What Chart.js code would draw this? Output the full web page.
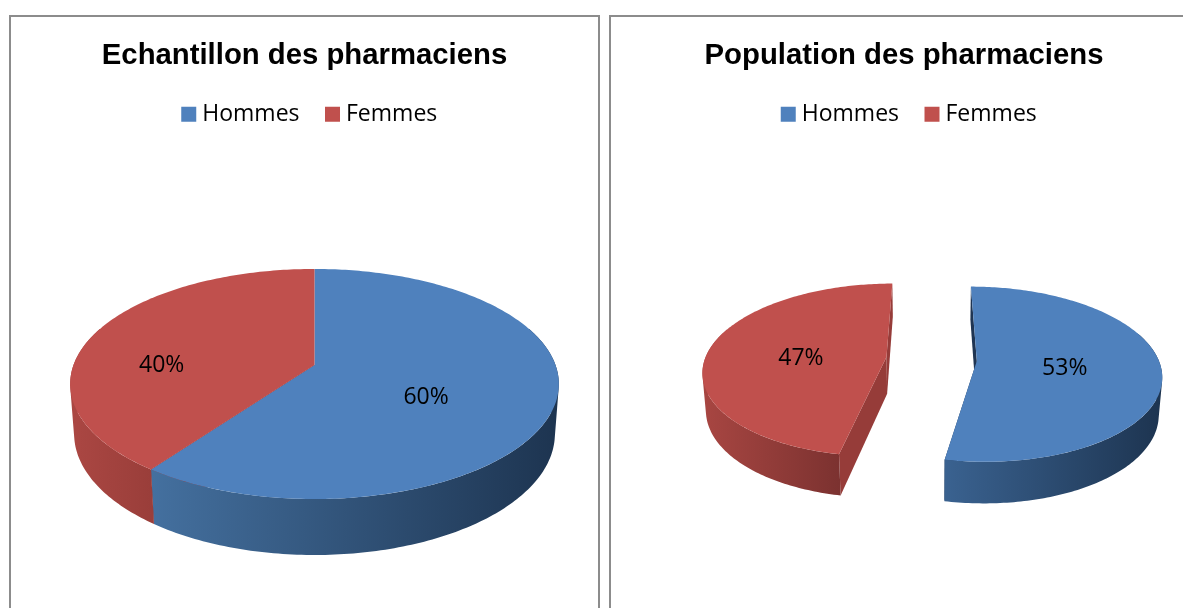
<!DOCTYPE html>
<html><head><meta charset="utf-8">
<script src="https://cdn.jsdelivr.net/npm/chart.js@4"></script>
<style>
html,body{margin:0;padding:0;background:#fff;width:1183px;height:608px;overflow:hidden}
.p{position:absolute;top:15px;height:610px;border:2px solid #8c8c8c;box-sizing:border-box;background:#fff}
canvas{display:block}
</style></head><body>
<div class="p" style="left:9px;width:591px"><canvas id="a"></canvas></div>
<div class="p" style="left:609px;width:590px"><canvas id="b"></canvas></div>
<script>
const categories = ["Hommes", "Femmes"];
const sampleValues = [60, 40];
const populationValues = [53, 47];
const titles = ["Echantillon des pharmaciens", "Population des pharmaciens"];
const colors = ["#4f81bd", "#c0504d"];
const radialWalls = ["#1f3553","#963c39"];

const pie3d = {
  id: "pie3d",
  afterLayout(chart) {
    chart.legend.left += 7.5;
    chart.legend.right += 7.5;
    chart.legend.top += 1;
  },
  beforeDatasetsDraw(chart, args, o) {
    const ctx = chart.ctx, arcs = chart.getDatasetMeta(0).data;
    const rot = -Math.PI/2;
    const proj = (a,r,z,ea) => {
      let u = Math.sin(a)*r, v = -Math.cos(a)*r;
      if (o.explode) { u += o.explode*Math.sin(ea); v += -o.explode*Math.cos(ea); }
      const wx = 1 - o.kx*v + o.m*z, wy = 1 - o.ky*v + o.m*z;
      return [o.cx + o.R*u/wx, o.cy + (o.A*v + o.D*z)/wy];
    };
    const slices = arcs.map((arc,i)=>{
      const s = arc.startAngle - rot, e = arc.endAngle - rot;
      return {i, s, e, m:(s+e)/2};
    });
    const addPoly = pts => {
      let area = 0;
      pts.forEach((p,j)=>{const q=pts[(j+1)%pts.length]; area += p[0]*q[1]-q[0]*p[1];});
      const list = area < 0 ? pts.slice().reverse() : pts;
      list.forEach((p,j)=> j? ctx.lineTo(p[0],p[1]) : ctx.moveTo(p[0],p[1]));
      ctx.closePath();
    };
    const poly = (pts,fill) => { ctx.beginPath(); addPoly(pts); ctx.fillStyle = fill; ctx.fill(); };
    const rim = (s,e,z,ea) => {
      const n = Math.max(2,Math.ceil((e-s)*60)), pts=[];
      for (let j=0;j<=n;j++) pts.push(proj(s+(e-s)*j/n,1,z,ea));
      return pts;
    };
    slices.forEach(sl=>{
      [sl.s,sl.e].forEach(a=>{
        poly([proj(a,0,0,sl.m),proj(a,1,0,sl.m),proj(a,1,1,sl.m),proj(a,0,1,sl.m)], radialWalls[sl.i]);
      });
    });
    const lim0 = 70*Math.PI/180, lim1 = 290*Math.PI/180;
    slices.forEach(sl=>{
      const s = Math.max(sl.s,lim0), e = Math.min(sl.e,lim1);
      if (e <= s) return;
      const top = rim(s,e,0,sl.m), bot = rim(s,e,1,sl.m);
      const vis = rim(Math.max(sl.s,Math.PI/2),Math.min(sl.e,1.5*Math.PI),0,sl.m).map(p=>p[0]);
      const g = ctx.createLinearGradient(Math.min(...vis),0,Math.max(...vis),0);
      const st = o.walls[sl.i];
      st.forEach((c,k)=>g.addColorStop(k/(st.length-1),c));
      ctx.beginPath();
      for (let j=0;j<top.length-1;j++) addPoly([top[j],top[j+1],bot[j+1],bot[j]]);
      ctx.fillStyle = g; ctx.fill();
    });
    slices.forEach(sl=>{
      poly([proj(0,0,0,sl.m)].concat(rim(sl.s,sl.e,0,sl.m)), colors[sl.i]);
    });
    ctx.fillStyle="#000"; ctx.font='23px "Open Sans"'; ctx.textAlign="center"; ctx.textBaseline="middle";
    slices.forEach(sl=>{
      const p = proj(sl.m,o.labelR[sl.i],0,sl.m);
      ctx.fillText(chart.data.datasets[0].data[sl.i]+"%", p[0], p[1]+o.labelDy[sl.i]);
    });
    return false;
  }
};

function make(id, title, values, pie) {
  new Chart(document.getElementById(id), {
    type: "pie",
    data: { labels: categories, datasets: [{ data: values, backgroundColor: colors, borderWidth: 0 }] },
    options: {
      responsive: false, animation: false,
      layout: { padding: { top: 21 } },
      events: [],
      plugins: {
        tooltip: { enabled: false },
        title: { display: true, text: title, color: "#000", font: { family: "Liberation Sans", size: 29.3, weight: "bold" }, padding: { top: 0, bottom: -2.4 } },
        legend: { position: "top", labels: { color: "#000", usePointStyle: true, pointStyle: "rect", boxWidth: 4, boxHeight: 15, padding: 31, font: { family: "Open Sans", size: 23 } } },
        pie3d: pie
      }
    },
    plugins: [pie3d]
  });
}
function size(id,w,h){const c=document.getElementById(id);c.width=w;c.height=h;c.style.width=w+"px";c.style.height=h+"px";}
size("a",587,606); size("b",586,606);
make("a", titles[0], sampleValues, { cx:303.5, cy:348, R:241, A:111.9, D:49.8, kx:.165, ky:.165, m:.016, explode:0, walls:[["#44709f","#1d3450"],["#ab4743","#9a3e3a"]], labelR:[.475,.69], labelDy:[16,24] });
make("b", titles[1], populationValues, { cx:320.5, cy:342, R:181.5, A:85, D:37.4, kx:.15, ky:.15, m:.015, explode:.25, walls:[["#3a6290","#1d3450"],["#a84642","#7c3230"]], labelR:[.48,.48], labelDy:[4,5] });
</script>
</body></html>
